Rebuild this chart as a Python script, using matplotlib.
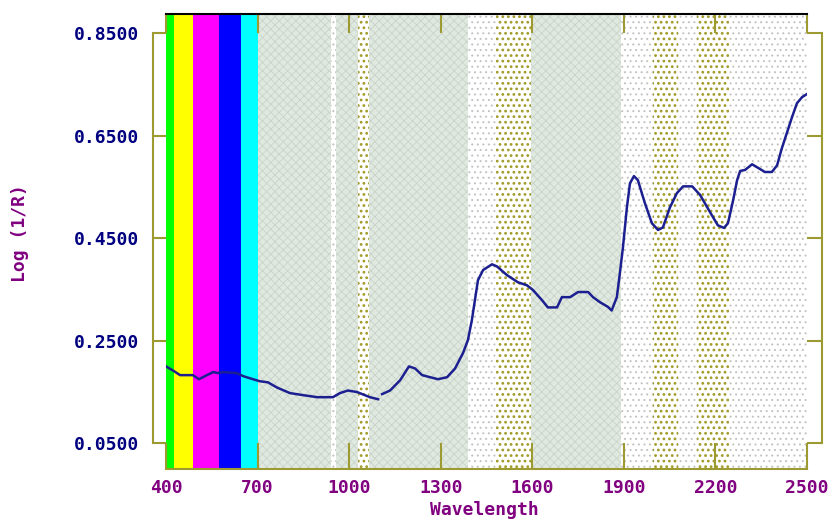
import numpy as np
import matplotlib
matplotlib.use("Agg")
import matplotlib.pyplot as plt

# spectrum (None = break in the trace)
wavelength = [400, 423, 446, 488, 508, 534, 555, 570, 587, 632, 653, 685, 708, 734, 763,
              806, 849, 895, 947, 970, 996, 1026, 1068, 1095, 1101,
              1108, 1134, 1167, 1196, 1216, 1239, 1265, 1291, 1321, 1347, 1373, 1389,
              1402, 1412, 1422, 1439, 1468, 1484, 1517, 1553, 1583, 1602, 1632, 1651,
              1681, 1697, 1724, 1750, 1783, 1799, 1822, 1848, 1860, 1877, 1887, 1897,
              1910, 1920, 1933, 1946, 1969, 1992, 2012, 2028, 2051, 2074, 2094, 2124,
              2150, 2182, 2208, 2228, 2241, 2258, 2271, 2281, 2297, 2320, 2340, 2362,
              2385, 2402, 2418, 2434, 2451, 2467, 2484, 2500]
log_inv_r = [0.200, 0.192, 0.183, 0.183, 0.175, 0.183, 0.189, 0.187, 0.189, 0.187, 0.181,
             0.175, 0.171, 0.169, 0.159, 0.148, 0.144, 0.140, 0.140, 0.148, 0.153, 0.150,
             0.140, 0.136, None,
             0.146, 0.153, 0.173, 0.200, 0.196, 0.183, 0.179, 0.175, 0.179, 0.196, 0.226,
             0.251, 0.290, 0.329, 0.368, 0.388, 0.399, 0.395, 0.378, 0.364, 0.358, 0.349,
             0.329, 0.315, 0.315, 0.335, 0.335, 0.345, 0.345, 0.335, 0.325, 0.316, 0.309,
             0.335, 0.382, 0.432, 0.510, 0.557, 0.571, 0.563, 0.518, 0.479, 0.466, 0.471,
             0.510, 0.538, 0.551, 0.551, 0.534, 0.501, 0.475, 0.470, 0.479, 0.524, 0.563,
             0.581, 0.583, 0.594, 0.587, 0.579, 0.579, 0.592, 0.626, 0.655, 0.686, 0.713,
             0.725, 0.731]

# background regions
band_edges = [400, 425, 490, 575, 645, 700, 940, 957, 1029, 1066, 1390, 1482, 1597,
              1890, 1995, 2076, 2138, 2245, 2500]
band_kind = ['green', 'yellow', 'magenta', 'blue', 'cyan',
             'nir', 'gap', 'nir', 'olive', 'nir', 'gap', 'olive', 'nir',
             'gap', 'olive', 'gap', 'olive', 'gap']

x_ticks = [400, 700, 1000, 1300, 1600, 1900, 2200, 2500]
y_ticks = [0.05, 0.25, 0.45, 0.65, 0.85]

OLIVE = '#9c9a30'
NAVY = '#000080'
PURPLE = '#800080'

styles = {
    'green':   (dict(facecolor='#00ff00'), 0.7),
    'yellow':  (dict(facecolor='#ffff00'), 0.7),
    'magenta': (dict(facecolor='#ff00ff'), 0.7),
    'blue':    (dict(facecolor='#0000ff'), 0.7),
    'cyan':    (dict(facecolor='#00ffff'), 0.7),
    'nir':     (dict(facecolor='#e0e9e0', hatch='xxxx', edgecolor='#c9d3c9'), 0.6),
    'gap':     (dict(facecolor='white', hatch='...', edgecolor='#c2c2c2'), 0.7),
    'olive':   (dict(facecolor='white', hatch='...', edgecolor='#a09a28'), 1.2),
}

font = dict(family='DejaVu Sans Mono', weight='bold', size=13)

fig = plt.figure(figsize=(8.34, 5.2), dpi=100)
ax = fig.add_axes([166/834, 51/520, 641/834, 455/520])

for i, kind in enumerate(band_kind):
    kw, hlw = styles[kind]
    with plt.rc_context({'hatch.linewidth': hlw}):
        ax.axvspan(band_edges[i], band_edges[i+1], lw=0, zorder=0, **kw)

y = np.array(log_inv_r, dtype=float)
ax.plot(wavelength, y, color='#1c1f8f', lw=1.8, zorder=3)

ax.set_xlim(400, 2500)
ax.set_ylim(0, 0.887)

for side in ['left', 'right']:
    ax.spines[side].set_color(OLIVE)
    ax.spines[side].set_linewidth(1.5)
    ax.spines[side].set_bounds(0.05, 0.85)
ax.spines['left'].set_position(('outward', 9.4))
ax.spines['right'].set_position(('outward', 10.8))
ax.spines['bottom'].set_color(OLIVE)
ax.spines['bottom'].set_linewidth(1.5)
ax.spines['top'].set_color('black')
ax.spines['top'].set_linewidth(1.5)

ax.set_yticks(y_ticks)
ax.set_yticklabels(['%.4f' % v for v in y_ticks], color=NAVY, **font)
ax.tick_params(axis='y', which='both', direction='in', left=True, right=True,
               length=9.4, width=1.5, color=OLIVE, pad=10)
for t in ax.yaxis.get_major_ticks():
    t.tick2line.set_markersize(10.8)

ax.set_xticks(x_ticks)
ax.set_xticklabels([str(v) for v in x_ticks], color=PURPLE, **font)
ax.tick_params(axis='x', direction='in', bottom=True, top=True, length=18.7,
               width=1.5, color=OLIVE, pad=7)
for t in ax.xaxis.get_major_ticks():
    t.tick2line.set_markersize(13.7)

fig.text(20/834, 1 - 233/520, 'Log (1/R)', rotation=90, ha='center', va='center',
         color=PURPLE, **font)
fig.text(484/834, 1/520, 'Wavelength', ha='center', va='bottom',
         color=PURPLE, **font)

fig.savefig('out.png', dpi=100)
